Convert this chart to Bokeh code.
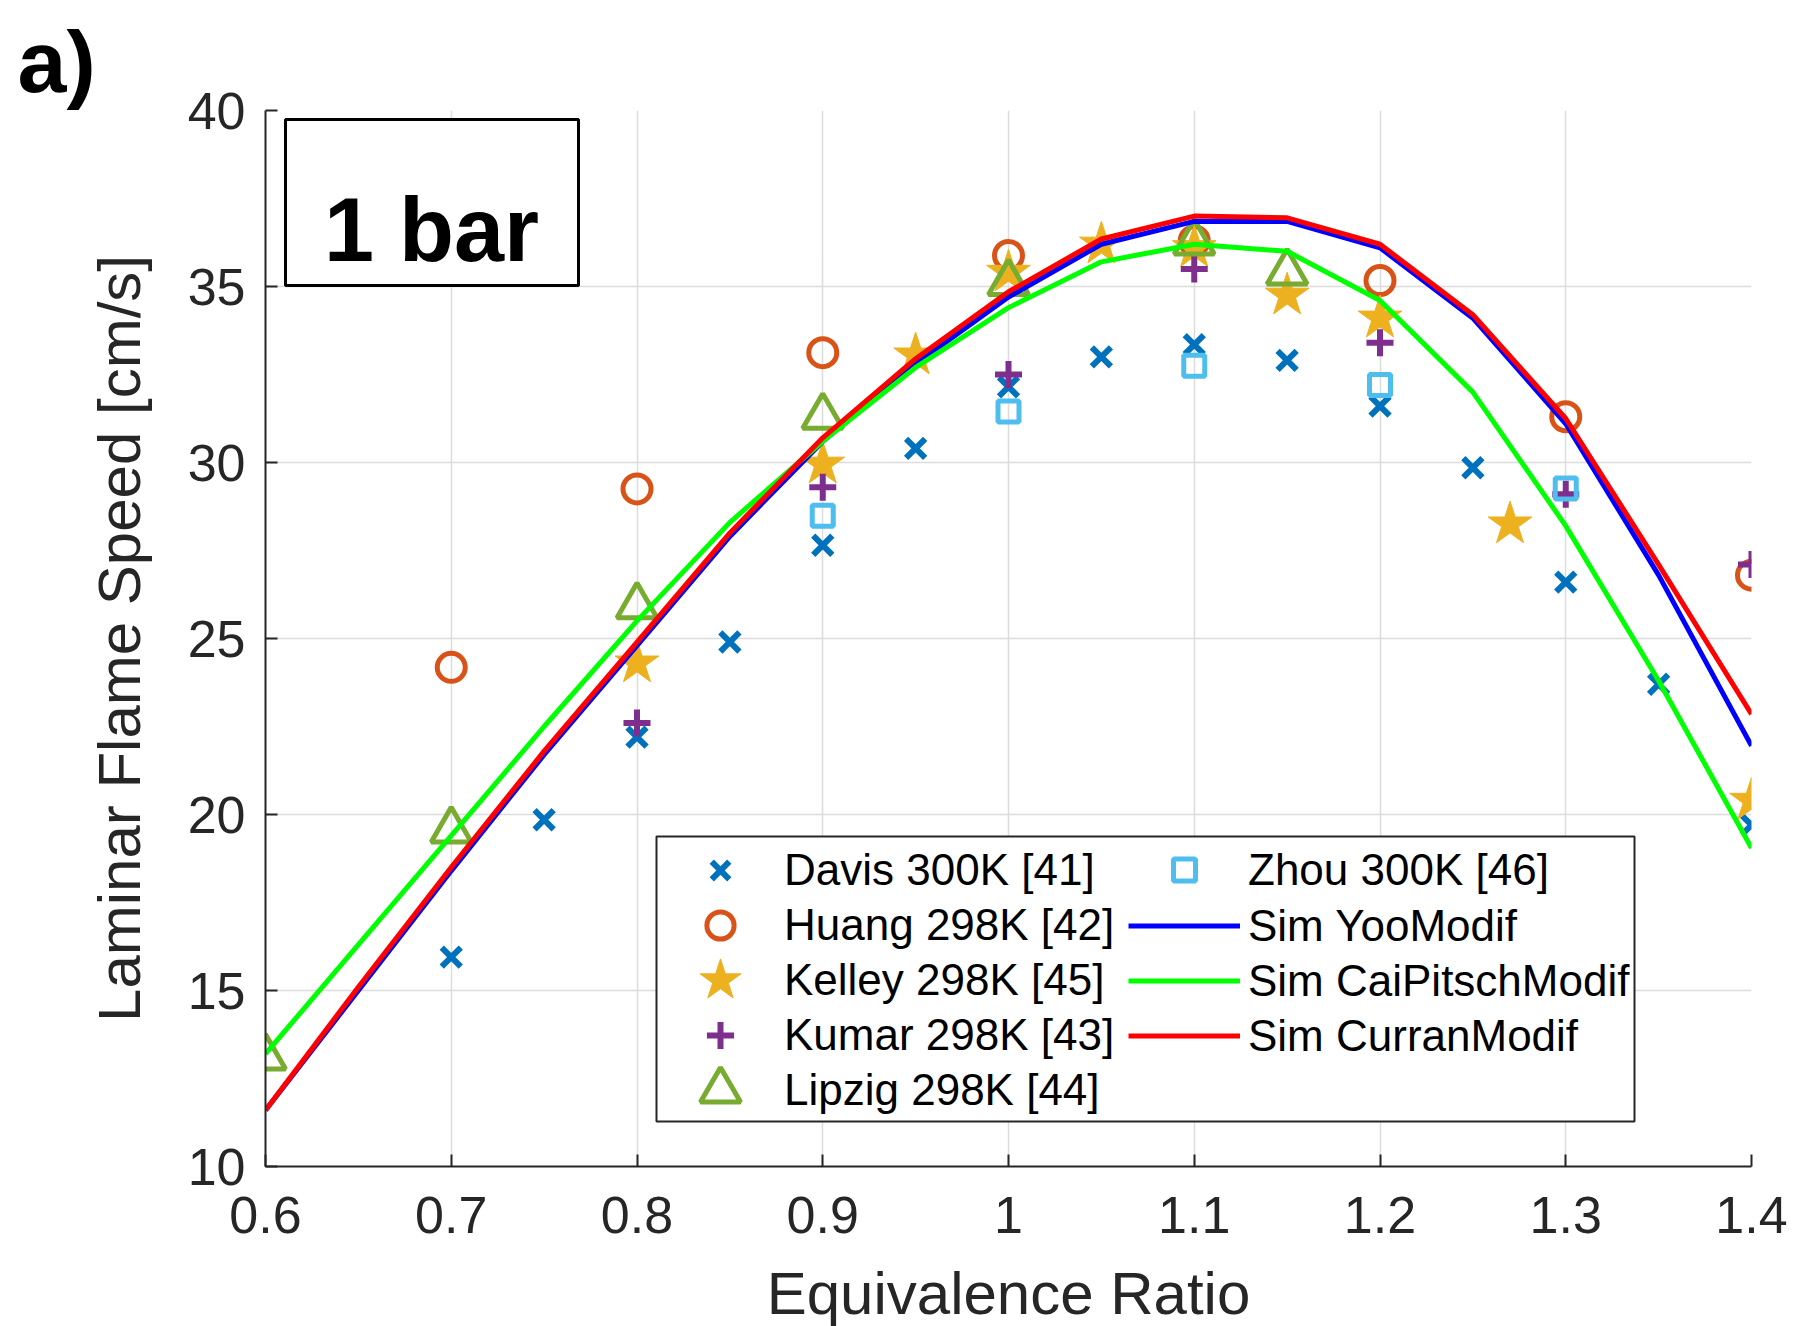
from bokeh.plotting import figure
from bokeh.models import (Range1d, FixedTicker, Legend, LegendItem, Label,
                          BoxAnnotation, Title)
from bokeh.embed import file_html
from bokeh.resources import INLINE

# ---- data ----
davis_phi = [0.7, 0.75, 0.8, 0.85, 0.9, 0.95, 1.0, 1.05, 1.1, 1.15, 1.2, 1.25, 1.3, 1.35, 1.4]
davis_s = [15.95, 19.85, 22.2, 24.9, 27.65, 30.4, 32.15, 33.0, 33.35, 32.9, 31.6, 29.85, 26.6, 23.7, 19.7]

huang_phi = [0.7, 0.8, 0.9, 1.0, 1.1, 1.2, 1.3, 1.4]
huang_s = [24.18, 29.25, 33.12, 35.88, 36.3, 35.17, 31.3, 26.8]

kelley_phi = [0.8, 0.9, 0.95, 1.0, 1.05, 1.1, 1.15, 1.2, 1.27, 1.4]
kelley_s = [24.3, 29.95, 33.05, 35.4, 36.2, 36.1, 34.75, 34.1, 28.25, 20.4]

kumar_phi = [0.8, 0.9, 1.0, 1.1, 1.2, 1.3, 1.4]
kumar_s = [22.6, 29.3, 32.5, 35.5, 33.4, 29.1, 27.1]

lipzig_phi = [0.6, 0.7, 0.8, 0.9, 1.0, 1.1, 1.15]
lipzig_s = [13.1, 19.55, 25.92, 31.3, 35.1, 36.25, 35.4]

zhou_phi = [0.9, 1.0, 1.1, 1.2, 1.3]
zhou_s = [28.49, 31.45, 32.75, 32.2, 29.26]

sim_phi = [0.6, 0.65, 0.7, 0.75, 0.8, 0.85, 0.9, 0.95, 1.0, 1.05, 1.1, 1.15, 1.2, 1.25, 1.3, 1.35, 1.4]
sim_yoo = [11.6, 15.0, 18.4, 21.7, 24.8, 27.9, 30.6, 32.8, 34.7, 36.2, 36.85, 36.85, 36.1, 34.1, 31.1, 26.8, 21.95]
sim_cai = [13.2, 16.3, 19.4, 22.5, 25.5, 28.3, 30.6, 32.7, 34.4, 35.7, 36.2, 36.0, 34.6, 32.0, 28.2, 23.8, 19.05]
sim_curran = [11.6, 15.1, 18.5, 21.8, 24.9, 28.0, 30.7, 32.95, 34.85, 36.35, 37.0, 36.95, 36.2, 34.2, 31.25, 27.1, 22.85]

x_ticks = [0.6, 0.7, 0.8, 0.9, 1.0, 1.1, 1.2, 1.3, 1.4]
y_ticks = [10, 15, 20, 25, 30, 35, 40]

FONT = "Liberation Sans"
DARK = "#262626"

p = figure(frame_width=1486, frame_height=1056,
           x_range=Range1d(0.6, 1.4), y_range=Range1d(10, 40),
           output_backend="svg", toolbar_location=None,
           min_border_left=265, min_border_right=45,
           min_border_top=110, min_border_bottom=160)
p.outline_line_color = None
p.background_fill_color = "white"
p.border_fill_color = "white"

for ax in (p.xaxis[0], p.yaxis[0]):
    ax.axis_line_color = DARK
    ax.axis_line_width = 2
    ax.major_tick_line_color = DARK
    ax.major_tick_line_width = 2
    ax.major_tick_in = 12
    ax.major_tick_out = 0
    ax.minor_tick_line_color = None
    ax.major_label_text_font = FONT
    ax.major_label_text_font_size = "52px"
    ax.major_label_text_color = DARK
    ax.axis_label_text_font = FONT
    ax.axis_label_text_font_size = "60px"
    ax.axis_label_text_font_style = "normal"
    ax.axis_label_text_color = DARK

p.xaxis[0].ticker = FixedTicker(ticks=x_ticks)
p.yaxis[0].ticker = FixedTicker(ticks=y_ticks)
p.xaxis[0].major_label_overrides = {1: "1"}
p.xaxis[0].major_label_standoff = 30
p.yaxis[0].major_label_standoff = 20
p.xaxis[0].axis_label = "Equivalence Ratio"
p.yaxis[0].axis_label = "Laminar Flame Speed [cm/s]"
p.xaxis[0].axis_label_standoff = 24
p.yaxis[0].axis_label_standoff = 32

for g in (p.xgrid[0], p.ygrid[0]):
    g.grid_line_color = "#dcdcdc"
    g.grid_line_width = 1.5

r_davis = p.scatter(davis_phi, davis_s, marker="x", size=27, line_color="#0072BD", line_width=6)
r_huang = p.scatter(huang_phi, huang_s, marker="circle", size=28, fill_color=None,
                    line_color="#D95319", line_width=5)
r_kelley = p.scatter(kelley_phi, kelley_s, marker="star", size=46, fill_color="#EDB120",
                     line_color="#EDB120", line_width=1)
r_kumar = p.scatter(kumar_phi, kumar_s, marker="cross", size=27, line_color="#7E2F8E", line_width=6)
r_lipzig = p.scatter(lipzig_phi, lipzig_s, marker="triangle", size=40, fill_color=None,
                     line_color="#77AC30", line_width=5)
r_zhou = p.scatter(zhou_phi, zhou_s, marker="square", size=21, fill_color=None,
                   line_color="#4DBEEE", line_width=5)
r_yoo = p.line(sim_phi, sim_yoo, line_color="#0000FF", line_width=5)
r_cai = p.line(sim_phi, sim_cai, line_color="#00FF00", line_width=5)
r_curran = p.line(sim_phi, sim_curran, line_color="#FF0000", line_width=5)

# legend frame (white box with dark border)
legend_box = BoxAnnotation(left=391, right=1369, bottom=45, top=330,
                           left_units="screen", right_units="screen",
                           bottom_units="screen", top_units="screen",
                           fill_color="white", fill_alpha=1.0,
                           line_color=DARK, line_alpha=1.0, line_width=2)
p.add_layout(legend_box)


def add_legend(entries, x, y, gh, spacing=0):
    lg = Legend(items=[LegendItem(label=t, renderers=[r]) for t, r in entries],
                location=(x, y), orientation="vertical",
                glyph_width=112, glyph_height=gh, label_height=gh, label_standoff=8,
                spacing=spacing, padding=0, margin=0,
                label_text_font=FONT, label_text_font_size="44px", label_text_color="black",
                border_line_color=None, background_fill_alpha=0.0)
    p.add_layout(lg, "center")


# column 1 (row centres 296, 241, 186, 131, 76 px above the frame bottom)
add_legend([("Davis 300K [41]", r_davis)], 399, 296 - 31, 62)
add_legend([("Huang 298K [42]", r_huang)], 399, 241 - 34, 68)
add_legend([("Kelley 298K [45]", r_kelley)], 399, 186 - 54, 108)
add_legend([("Kumar 298K [43]", r_kumar)], 399, 131 - 34, 68)
add_legend([("Lipzig 298K [44]", r_lipzig)], 399, 76 - 50, 100)
# column 2
add_legend([("Zhou 300K [46]", r_zhou)], 863, 296 - 27, 55)
add_legend([("Sim YooModif", r_yoo), ("Sim CaiPitschModif", r_cai),
            ("Sim CurranModif", r_curran)], 863, 241 + 27 - 165, 55)

box = BoxAnnotation(left=20, right=313, bottom=881, top=1047,
                    left_units="screen", right_units="screen",
                    bottom_units="screen", top_units="screen",
                    fill_color="white", fill_alpha=1.0,
                    line_color="black", line_alpha=1.0, line_width=3)
p.add_layout(box)

p.add_layout(Label(x=166, y=937, x_units="screen", y_units="screen", text="1 bar",
                   text_font=FONT, text_font_size="90px", text_font_style="bold",
                   text_align="center", text_baseline="alphabetic", text_color="black"))

panel_title = Title(text="a)", align="left", offset=-248, standoff=0,
                    text_font=FONT, text_font_size="88px", text_font_style="bold",
                    text_color="black")
p.add_layout(panel_title, "above")

open("out.html", "w").write(file_html(p, INLINE))
